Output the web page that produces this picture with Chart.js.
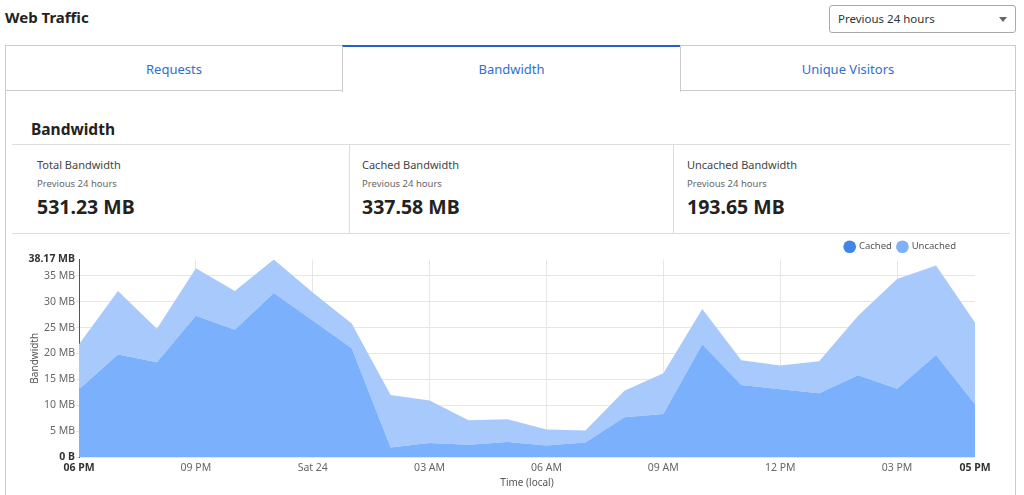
<!DOCTYPE html>
<html>
<head>
<meta charset="utf-8">
<script src="https://cdn.jsdelivr.net/npm/chart.js@4.4.1/dist/chart.umd.min.js"></script>
<style>
  html, body { margin:0; padding:0; background:#fff; width:1024px; height:495px; overflow:hidden; font-family:"Noto Sans","Open Sans",sans-serif; }
  .abs { position:absolute; }
  #title { left:5px; top:7px; font-size:15px; font-weight:bold; color:#222; }
  #select { left:829px; top:5px; width:185px; height:26px; border:1px solid #aaa; border-radius:3px; }
  #select span { position:absolute; left:8px; top:5px; font-size:11.5px; color:#333; }
  #select i { position:absolute; right:8px; top:11px; width:0; height:0; border-left:4px solid transparent; border-right:4px solid transparent; border-top:5px solid #666; }
  .tab { top:45px; height:46px; border:1px solid #ccc; box-sizing:border-box; color:#2f6fd0; font-size:13px; text-align:center; line-height:46px; background:#fff; }
  #tab2 { border-top:2px solid #1f62d0; border-bottom:none; height:47px; line-height:44px; }
  #panelL { left:5px; top:91px; width:1px; height:404px; background:#ccc; }
  #panelR { left:1015px; top:91px; width:1px; height:404px; background:#ccc; }
  #bwTitle { left:31px; top:118px; font-size:15.5px; font-weight:bold; color:#222; }
  .hline { height:1px; background:#ddd; left:12px; width:998px; }
  .vline { width:1px; background:#ddd; top:145px; height:88px; }
  .lab { font-size:11px; color:#444; }
  .sub { font-size:9.5px; color:#666; }
  .val { font-size:19.5px; font-weight:bold; color:#222; }
  #wrap { left:12px; top:234px; width:998px; height:261px; }
</style>
</head>
<body>
<div id="title" class="abs">Web Traffic</div>
<div id="select" class="abs"><span>Previous 24 hours</span><i></i></div>

<div class="abs tab" style="left:5px;width:338px;">Requests</div>
<div class="abs tab" id="tab2" style="left:342px;width:339px;">Bandwidth</div>
<div class="abs tab" style="left:680px;width:336px;">Unique Visitors</div>
<div id="panelL" class="abs"></div>
<div id="panelR" class="abs"></div>

<div id="bwTitle" class="abs">Bandwidth</div>
<div class="abs hline" style="top:144px;"></div>
<div class="abs hline" style="top:233px;"></div>
<div class="abs vline" style="left:349px;"></div>
<div class="abs vline" style="left:673px;"></div>

<div class="abs lab" style="left:37px;top:157px;">Total Bandwidth</div>
<div class="abs sub" style="left:37px;top:177px;">Previous 24 hours</div>
<div class="abs val" style="left:37px;top:193px;">531.23 MB</div>

<div class="abs lab" style="left:362px;top:157px;">Cached Bandwidth</div>
<div class="abs sub" style="left:362px;top:177px;">Previous 24 hours</div>
<div class="abs val" style="left:362px;top:193px;">337.58 MB</div>

<div class="abs lab" style="left:687px;top:157px;">Uncached Bandwidth</div>
<div class="abs sub" style="left:687px;top:177px;">Previous 24 hours</div>
<div class="abs val" style="left:687px;top:193px;">193.65 MB</div>

<div id="wrap" class="abs"><canvas id="c"></canvas></div>

<script>
// ---- data ----
const hours = ["06 PM","07 PM","08 PM","09 PM","10 PM","11 PM","Sat 24","01 AM","02 AM","03 AM","04 AM","05 AM",
               "06 AM","07 AM","08 AM","09 AM","10 AM","11 AM","12 PM","01 PM","02 PM","03 PM","04 PM","05 PM"];
const shownTicks = [0,3,6,9,12,15,18,21,23];
// MB per hour
const cached   = [13.1,19.8,18.3,27.3,24.6,31.7,26.4,21.0,1.85,2.7,2.35,2.9,2.2,2.8,7.7,8.3,21.8,13.9,13.1,12.3,15.8,13.2,19.7,10.2];
const uncached = [8.7,12.3,6.5,9.2,7.5,6.47,5.4,4.8,10.15,8.2,4.75,4.4,3.1,2.3,5.1,7.9,6.8,4.8,4.6,6.2,11.5,21.2,17.3,15.8];
const yMax = 38.17;
const yTicks = [0,5,10,15,20,25,30,35,38.17];

const FONT = "'Noto Sans','Open Sans',sans-serif";
const legendColors = ['#3f86e8','#7fb1fa'];

const legendShift = {
  id: 'legendShift',
  afterLayout(chart) {
    if (chart.legend) { chart.legend.right -= 13; chart.legend.top += 2; chart.legend.bottom += 2; }
  }
};

new Chart(document.getElementById('c'), {
  type: 'line',
  plugins: [legendShift],
  data: {
    labels: hours,
    datasets: [
      { label:'Cached', data: cached, fill:'origin', backgroundColor:'rgb(122,176,252)', borderWidth:0, pointRadius:0, tension:0 },
      { label:'Uncached', data: uncached, fill:'-1', backgroundColor:'rgb(167,201,252)', borderWidth:0, pointRadius:0, tension:0 }
    ]
  },
  options: {
    responsive: true,
    maintainAspectRatio: false,
    animation: false,
    layout: { padding: { left: 0, right: 35, top: 0, bottom: 0 } },
    plugins: {
      tooltip: { enabled: false },
      legend: {
        position: 'top', align: 'end',
        labels: {
          usePointStyle: true, pointStyle: 'circle', boxWidth: 9, boxHeight: 9,
          padding: 6, color: '#555', font: { family: FONT, size: 9.5 },
          generateLabels(chart) {
            return Chart.defaults.plugins.legend.labels.generateLabels(chart).map((l, i) => {
              l.fillStyle = legendColors[i]; l.strokeStyle = legendColors[i]; l.lineWidth = 0; return l;
            });
          }
        }
      }
    },
    scales: {
      x: {
        type: 'category',
        offset: false,
        afterBuildTicks(scale) { scale.ticks = scale.ticks.filter(t => shownTicks.includes(t.value)); },
        afterFit(scale) { scale.height = 38; },
        ticks: {
          autoSkip: false, maxRotation: 0, padding: 5,
          color: ctx => (ctx.tick && (ctx.tick.value === 0 || ctx.tick.value === 23)) ? '#333' : '#666',
          font: ctx => ({ family: FONT, size: 10.5, weight: (ctx.tick && (ctx.tick.value === 0 || ctx.tick.value === 23)) ? 'bold' : 'normal' })
        },
        grid: {
          drawTicks: false,
          color: ctx => (ctx.tick && (ctx.tick.value === 0 || ctx.tick.value === 23)) ? 'rgba(0,0,0,0)' : '#e6e6e6'
        },
        border: { display: false },
        title: { display: true, text: 'Time (local)', color: '#555', font: { family: FONT, size: 10 }, padding: { top: 2, bottom: 6 } }
      },
      y: {
        stacked: true,
        min: 0, max: yMax,
        afterBuildTicks(scale) { scale.ticks = yTicks.map(v => ({ value: v })); },
        afterFit(scale) { scale.width = 67; },
        ticks: {
          padding: 1,
          color: ctx => (ctx.tick && (ctx.tick.value === 0 || ctx.tick.value === yMax)) ? '#333' : '#666',
          font: ctx => ({ family: FONT, size: 10.5, weight: (ctx.tick && (ctx.tick.value === 0 || ctx.tick.value === yMax)) ? 'bold' : 'normal' }),
          callback: v => v === 0 ? '0 B' : (v === yMax ? yMax.toFixed(2) + ' MB' : v + ' MB')
        },
        grid: {
          tickLength: 3,
          color: ctx => (ctx.tick && ctx.tick.value === yMax) ? 'rgba(0,0,0,0)' : '#e6e6e6'
        },
        border: { display: true, color: '#555', width: 1 },
        title: { display: true, text: 'Bandwidth', color: '#555', font: { family: FONT, size: 10 }, padding: { top: 17, bottom: 0 } }
      }
    }
  }
});
</script>
</body>
</html>
